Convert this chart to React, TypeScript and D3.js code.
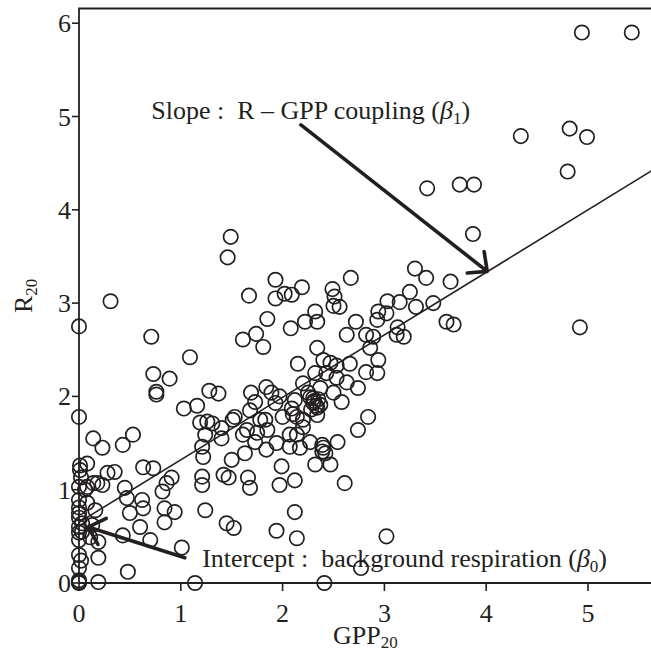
import React from "react";
import * as d3 from "d3";

// GPP20 values (x) and R20 values (y)
const gpp: number[] = [
  4.94, 5.43, 4.34, 4.82, 4.99, 4.80, 3.42, 3.74, 3.88, 3.87, 3.41, 3.65, 3.48, 3.61, 3.68, 4.92, 3.30, 3.31,
  1.49, 1.46, 1.93, 2.19, 1.67, 1.93, 2.02, 2.09, 2.49, 2.51, 2.67, 2.50, 2.56, 3.25, 3.03, 3.15,
  2.32, 2.22, 2.34, 2.94, 2.93, 3.02, 2.72, 1.85, 2.08, 2.63, 2.82, 2.89, 3.13, 3.12, 3.19, 1.61,
  1.74, 1.81, 2.34, 2.86, 2.15, 2.40, 2.47, 2.53, 2.66, 2.94, 2.82, 2.93, 2.32, 2.43, 2.53, 2.63,
  2.74, 2.20, 2.25, 1.28, 1.37, 1.69, 1.84, 1.89, 1.97, 1.73, 1.93, 2.12, 2.30, 2.37, 2.58, 2.50,
  1.68, 1.53, 2.09, 2.84,
  0.31, 0.00, 0.71, 1.09, 0.73, 0.89, 0.76, 0.76, 1.03, 1.16, 0.00,
  1.26, 1.31, 1.24, 1.40, 1.51, 1.40, 1.65, 1.78, 1.61, 1.75, 1.85, 1.83, 2.14, 2.07, 2.14, 2.00,
  1.94, 2.20, 1.21,
  2.27, 2.37, 2.34, 2.31, 2.33, 2.28, 2.35, 2.30, 2.10, 2.20, 2.34, 2.74, 2.27, 2.39, 2.54, 2.40,
  1.19, 1.73, 1.84, 1.63, 1.50, 2.07, 2.17, 2.42, 2.39, 2.32, 2.47, 1.99, 2.61, 1.97, 2.12, 1.66,
  1.68, 1.21, 1.21, 1.42, 1.24, 2.12, 1.45, 1.52, 1.94, 2.14, 3.02, 2.77, 2.41, 1.14, 1.47, 1.22,
  0.23, 0.43, 0.53, 0.14, 0.01, 0.08, 0.28, 0.35, 0.63, 0.73, 0.91, 0.86, 0.82, 0.45, 0.47, 0.62,
  0.63, 0.50, 0.14, 0.23, 0.00, 0.06, 0.84, 0.94, 0.84, 0.60, 0.70, 0.43, 1.01, 0.48, 0.19, 0.19,
  0.16, 0.00, 0.00, 0.00, 0.00, 0.00, 0.00, 0.00, 0.00, 0.00, 0.19, 0.01, 0.02, 0.08, 0.18, 0.00,
  0.08, 0.00, 0.03, 0.03, 0.13, 0.11, 0.02, 0.00,
];
const r20: number[] = [
  5.90, 5.90, 4.79, 4.87, 4.78, 4.41, 4.23, 4.27, 4.27, 3.74, 3.27, 3.23, 3.00, 2.80, 2.77, 2.74, 3.37, 2.96,
  3.71, 3.49, 3.25, 3.17, 3.08, 3.05, 3.10, 3.09, 3.15, 3.07, 3.27, 2.97, 2.96, 3.12, 3.02, 3.01,
  2.91, 2.80, 2.80, 2.91, 2.82, 2.89, 2.80, 2.83, 2.73, 2.66, 2.66, 2.64, 2.74, 2.66, 2.64, 2.61,
  2.67, 2.53, 2.52, 2.52, 2.35, 2.39, 2.36, 2.33, 2.35, 2.39, 2.26, 2.25, 2.25, 2.25, 2.20, 2.15,
  2.09, 2.14, 2.04, 2.06, 2.03, 2.04, 2.10, 2.04, 2.00, 1.94, 1.93, 1.96, 1.93, 1.91, 1.94, 2.04,
  1.85, 1.78, 1.87, 1.78,
  3.02, 2.75, 2.64, 2.42, 2.24, 2.19, 2.05, 2.02, 1.87, 1.90, 1.78,
  1.73, 1.71, 1.59, 1.66, 1.75, 1.55, 1.64, 1.75, 1.59, 1.61, 1.64, 1.75, 1.78, 1.59, 1.59, 1.78,
  1.50, 1.67, 1.46,
  1.99, 2.09, 1.88, 1.95, 1.90, 1.86, 1.97, 1.98, 1.81, 1.75, 1.80, 1.64, 1.51, 1.48, 1.51, 1.45,
  1.72, 1.51, 1.43, 1.39, 1.32, 1.46, 1.45, 1.39, 1.41, 1.27, 1.27, 1.25, 1.07, 1.05, 1.10, 1.13,
  1.02, 1.14, 1.05, 1.16, 0.78, 0.76, 0.64, 0.59, 0.56, 0.48, 0.50, 0.16, 0.00, 0.00, 1.13, 1.35,
  1.45, 1.48, 1.59, 1.55, 1.26, 1.28, 1.18, 1.19, 1.24, 1.23, 1.13, 1.07, 0.98, 1.02, 0.91, 0.89,
  0.80, 0.75, 1.07, 1.05, 1.03, 1.00, 0.80, 0.76, 0.65, 0.60, 0.46, 0.51, 0.38, 0.12, 0.27, 0.44,
  0.78, 0.81, 0.70, 0.60, 0.54, 0.46, 0.30, 0.16, 0.03, 0.00, 0.01, 1.21, 1.13, 1.03, 1.07, 0.89,
  0.86, 0.75, 0.64, 0.55, 0.62, 0.49, 0.24, 0.01,
];

const xTicks: number[] = [0, 1, 2, 3, 4, 5];
const yTicks: number[] = [0, 1, 2, 3, 4, 5, 6];

// fitted line R = b0 + b1 * GPP
const fitIntercept = 0.65;
const fitSlope = 0.67;

// annotation arrows, [tail, tip] in data units
const slopeArrow: [number, number][] = [[2.18, 4.91], [4.01, 3.34]];
const interceptArrow: [number, number][] = [[1.04, 0.27], [0.09, 0.60]];
const slopeLabelAt: [number, number] = [0.71, 4.97];
const interceptLabelAt: [number, number] = [1.21, 0.17];

const W = 651;
const H = 653;
const INK = "#231f20";
const FONT = "'Liberation Serif', 'Times New Roman', serif";

export default function App() {
  const x = d3.scaleLinear().domain([0, 5.6]).range([79, 79 + 5.6 * 101.8]);
  const y = d3.scaleLinear().domain([0, 6]).range([583, 583 - 6 * 93.3]);
  const xMax = x.invert(W + 20);
  const yTop = 8.5;

  const lineGen = d3.line<number>().x((d) => x(d)).y((d) => y(fitIntercept + fitSlope * d));

  const arrowHead = (a: [number, number][]) => {
    const [t, p] = a;
    const x1 = x(t[0]), y1 = y(t[1]), x2 = x(p[0]), y2 = y(p[1]);
    const ang = Math.atan2(y1 - y2, x1 - x2);
    const L = 20, spread = (43 * Math.PI) / 180;
    const b1 = [x2 + L * Math.cos(ang + spread), y2 + L * Math.sin(ang + spread)];
    const b2 = [x2 + L * Math.cos(ang - spread), y2 + L * Math.sin(ang - spread)];
    return `M${x1},${y1}L${x2},${y2}M${b1[0]},${b1[1]}L${x2},${y2}L${b2[0]},${b2[1]}`;
  };

  return (
    <svg
      width={W}
      height={H}
      style={{ position: "absolute", left: 0, top: 0, background: "#fff" }}
      fontFamily={FONT}
    >
      <rect x={0} y={0} width={W} height={H} fill="#fff" />
      {/* points */}
      <g fill="none" stroke={INK} strokeWidth={1.7}>
        {gpp.map((g, i) => (
          <circle key={i} cx={x(g)} cy={y(r20[i])} r={7.2} />
        ))}
      </g>
      {/* fitted line */}
      <path d={lineGen([0, xMax]) || ""} stroke={INK} strokeWidth={1.6} fill="none" />
      {/* arrows */}
      <path d={arrowHead(slopeArrow)} stroke={INK} strokeWidth={3.6} fill="none" strokeLinecap="round" strokeLinejoin="round" />
      <path d={arrowHead(interceptArrow)} stroke={INK} strokeWidth={3.6} fill="none" strokeLinecap="round" strokeLinejoin="round" />
      {/* frame */}
      <path
        d={`M${W + 5},${yTop}L${x(0)},${yTop}L${x(0)},${y(0)}L${W + 5},${y(0)}`}
        stroke={INK}
        strokeWidth={1.8}
        fill="none"
      />
      {/* x ticks */}
      <g>
        {xTicks.map((t) => (
          <g key={t}>
            <line x1={x(t)} x2={x(t)} y1={y(0)} y2={y(0) + 8} stroke={INK} strokeWidth={1.6} />
            <text x={x(t)} y={622} textAnchor="middle" fontSize={26} fill={INK}>
              {t}
            </text>
          </g>
        ))}
      </g>
      {/* y ticks */}
      <g>
        {yTicks.map((t) => (
          <g key={t}>
            <line x1={x(0) - 7} x2={x(0)} y1={y(t)} y2={y(t)} stroke={INK} strokeWidth={1.6} />
            <text x={71} y={y(t) + 9} textAnchor="end" fontSize={26} fill={INK}>
              {t}
            </text>
          </g>
        ))}
      </g>
      {/* axis labels */}
      <text x={333} y={644} fontSize={26} fill={INK}>
        GPP
        <tspan fontSize={17} dy={4}>20</tspan>
      </text>
      <text transform="translate(32,313) rotate(-90)" fontSize={26} fill={INK}>
        R
        <tspan fontSize={17} dy={5}>20</tspan>
      </text>
      {/* annotations */}
      <text
        x={x(slopeLabelAt[0])}
        y={y(slopeLabelAt[1])}
        fontSize={26}
        fill={INK}
        style={{ whiteSpace: "pre" }}
      >
        {"Slope :  R \u2013 GPP coupling ("}
        <tspan fontStyle="italic">β</tspan>
        <tspan fontSize={17} dy={5}>1</tspan>
        <tspan dy={-5}>)</tspan>
      </text>
      <text
        x={x(interceptLabelAt[0])}
        y={y(interceptLabelAt[1])}
        fontSize={26}
        fill={INK}
        style={{ whiteSpace: "pre" }}
      >
        {"Intercept :  background respiration ("}
        <tspan fontStyle="italic">β</tspan>
        <tspan fontSize={17} dy={5}>0</tspan>
        <tspan dy={-5}>)</tspan>
      </text>
    </svg>
  );
}
